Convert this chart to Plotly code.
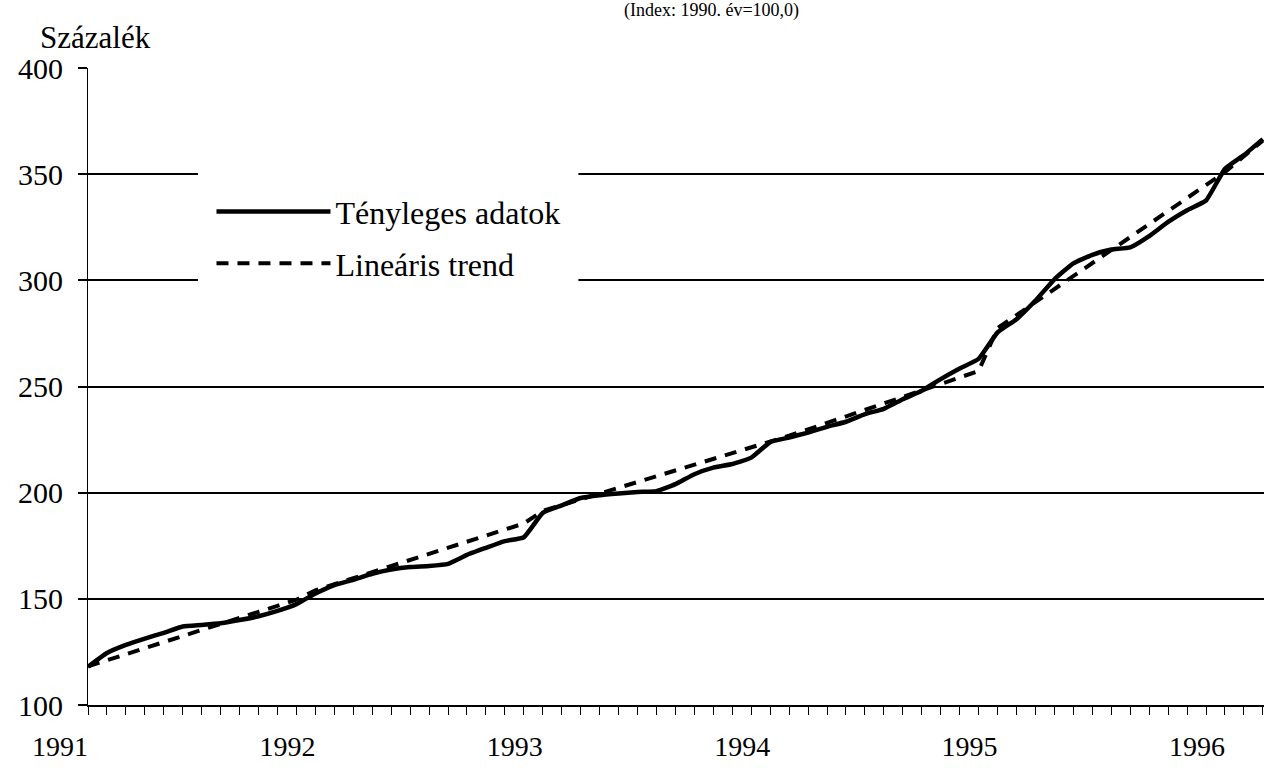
import plotly.graph_objects as go

# Month index 0 = January 1991
months = list(range(63))

actual = [118.0, 124.5, 128.3, 131.3, 134.0, 137.0, 137.7, 138.5, 140.0, 141.8, 144.3, 147.5,
          152.5, 156.5, 159.0, 161.8, 163.8, 165.0, 165.5, 166.5, 170.7, 174.0, 177.2, 179.0,
          190.5, 194.0, 197.5, 198.8, 199.6, 200.3, 200.7, 204.0, 208.7, 211.8, 213.5, 216.5,
          223.8, 226.0, 228.3, 231.0, 233.4, 237.0, 239.5, 244.0, 248.0, 253.5, 258.5, 263.0,
          275.5, 281.7, 290.5, 300.5, 308.0, 312.0, 314.5, 315.5, 320.8, 327.5, 333.0, 337.6,
          352.5, 359.0, 366.5]

trend = [118.2, 121.1, 123.9, 126.8, 129.6, 132.5, 135.3, 138.2, 141.0, 143.9, 146.7, 149.6,
         154.0, 156.9, 159.7, 162.6, 165.4, 168.3, 171.2, 174.0, 176.9, 179.7, 182.6, 185.5,
         191.4, 194.1, 196.8, 199.5, 202.2, 205.0, 207.7, 210.4, 213.1, 215.8, 218.5, 221.2,
         223.7, 226.8, 229.8, 232.9, 235.9, 239.0, 242.0, 245.1, 248.1, 251.2, 254.2, 257.3,
         277.5, 283.6, 289.8, 295.9, 302.0, 308.2, 314.3, 320.4, 326.5, 332.7, 338.8, 344.9,
         351.0, 358.4, 365.8]

year_ticks = [0, 12, 24, 36, 48, 60]
year_labels = ["1991", "1992", "1993", "1994", "1995", "1996"]
y_ticks = [100, 150, 200, 250, 300, 350, 400]

FONT = "Liberation Serif, Times New Roman, serif"

fig = go.Figure()
fig.add_trace(go.Scatter(
    x=months, y=actual, mode="lines", name="Tényleges adatok",
    legendgroup="a",
    line=dict(color="black", width=4.5, shape="spline", smoothing=0.4),
))
fig.add_trace(go.Scatter(
    x=months, y=trend, mode="lines", name="Lineáris trend",
    legendgroup="b",
    line=dict(color="black", width=4, dash="12px,9px"),
))

fig.update_layout(
    width=1264, height=775,
    margin=dict(l=88, r=0, t=68, b=70, pad=0),
    paper_bgcolor="white", plot_bgcolor="white",
    font=dict(family=FONT, color="black", size=30),
    showlegend=True,
    legend=dict(
        x=0.105, y=0.8175, xanchor="left", yanchor="top",
        bgcolor="white", borderwidth=0,
        font=dict(family=FONT, size=32, color="black"),
        itemwidth=114, tracegroupgap=7,
        traceorder="grouped",
    ),
    xaxis=dict(
        range=[0, 62.06],
        automargin=False,
        tickvals=year_ticks, ticktext=year_labels,
        ticks="outside", ticklen=8, tickwidth=1, tickcolor="black",
        ticklabelshift=-28, ticklabelstandoff=7,
        tickfont=dict(family=FONT, size=28, color="black"),
        minor=dict(dtick=1, tick0=0, ticks="outside", ticklen=8,
                   tickwidth=1, tickcolor="black", showgrid=False),
        showgrid=False, zeroline=False,
        showline=True, linecolor="black", linewidth=2,
    ),
    yaxis=dict(
        range=[100, 400],
        automargin=False,
        tickvals=y_ticks,
        ticks="outside", ticklen=9, tickwidth=1.5, tickcolor="black",
        ticklabelstandoff=9,
        tickfont=dict(family=FONT, size=30, color="black"),
        showgrid=True, gridcolor="black", gridwidth=1.5,
        zeroline=False,
        showline=True, linecolor="black", linewidth=1,
    ),
    shapes=[dict(
        type="rect", xref="paper", yref="paper",
        x0=0.0935, x1=0.417, y0=0.66, y1=0.86,
        fillcolor="white", line=dict(width=0), layer="above",
    )],
    annotations=[
        dict(text="(Index: 1990. év=100,0)", xref="paper", yref="paper",
             x=0.53, y=1 + (68 - 11) / 637, xanchor="center", yanchor="middle",
             showarrow=False, font=dict(family=FONT, size=18, color="black")),
        dict(text="Százalék", xref="paper", yref="paper",
             x=(38 - 88) / 1176, y=1 + (68 - 38) / 637, xanchor="left", yanchor="middle",
             showarrow=False, font=dict(family=FONT, size=31, color="black")),
    ],
)

fig.write_html("out.html", config={"displayModeBar": False},
               post_script="document.body.style.margin='0';")
